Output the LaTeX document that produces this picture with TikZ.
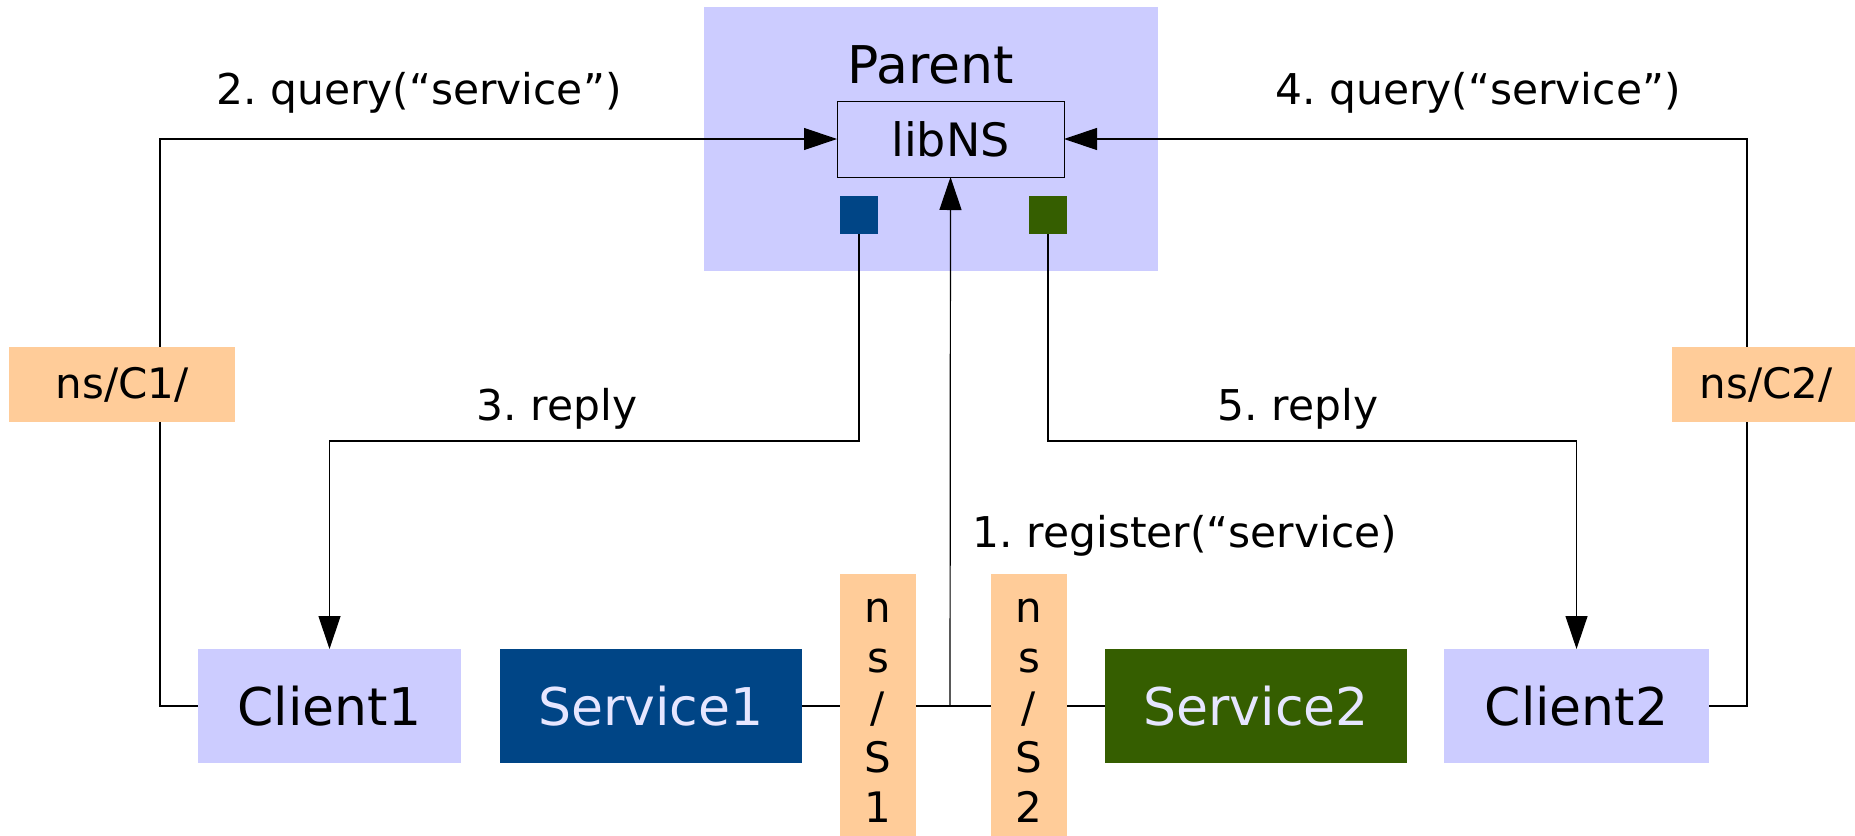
\documentclass[tikz,border=0pt]{standalone}
\usepackage{fontspec}
\setmainfont{DejaVu Sans}
\usetikzlibrary{arrows.meta}
\pgfdeclarelayer{bottom}
\pgfdeclarelayer{background}
\pgfsetlayers{bottom,background,main}
\definecolor{lav}{HTML}{CCCCFF}
\definecolor{org}{HTML}{FFCC99}
\definecolor{sblue}{HTML}{004586}
\definecolor{sgreen}{HTML}{355E00}
\definecolor{stext}{HTML}{E6E6FF}
\frenchspacing
\tikzset{
  px/.style={x={(0.5pt,0)},y={(0,-0.5pt)}},
  box/.style={inner sep=0pt, outer sep=0pt, minimum height=57pt},
  client/.style={box, fill=lav, font=\fontsize{26pt}{30pt}\selectfont},
  service/.style={box, text=stext, font=\fontsize{26pt}{30pt}\selectfont},
  tag/.style={inner sep=0pt, outer sep=0pt, fill=org, font=\fontsize{21pt}{25pt}\selectfont},
  lbl/.style={inner sep=0pt, anchor=base, font=\fontsize{21.2pt}{25pt}\selectfont},
  conn/.style={line width=0.6pt},
  arr/.style={conn, -{Triangle[length=16.5pt,width=11pt]}},
}
\begin{document}
\begin{tikzpicture}[px]
\useasboundingbox (0,0) rectangle (1855,835);
\begin{pgfonlayer}{bottom}
\node[inner sep=0pt, outer sep=0pt, fill=lav, minimum width=227pt, minimum height=132pt] (parent) at (931,139) {};
\end{pgfonlayer}
\node[lbl, font=\fontsize{26pt}{30pt}\selectfont] (ptitle) at (931,83) {Parent};
\node[inner sep=0pt, outer sep=0pt, draw, line width=0.5pt, fill=lav, minimum width=113.5pt, minimum height=38pt, font=\fontsize{23pt}{27pt}\selectfont] (libns) at (950.5,139) {libNS};
\node[inner sep=0pt, outer sep=0pt, fill=sblue, minimum size=19pt] (bsq) at (859,215) {};
\node[inner sep=0pt, outer sep=0pt, fill=sgreen, minimum size=19pt] (gsq) at (1048,215) {};

\node[tag, minimum width=113pt, minimum height=37.5pt] (nsc1) at (122,384.5) {ns/C1/};
\node[tag, minimum width=94pt, minimum height=37.5pt] (nsc2) at (1766,384.5) {ns/C2/};

\node[client, minimum width=131.5pt] (client1) at (329.5,706) {Client1};
\node[service, fill=sblue, minimum width=151pt] (service1) at (651,706) {Service1};
\node[tag, minimum width=38pt, minimum height=137pt, align=center] (nss1) at (878,711) {n\\s\\/\\S\\1};
\node[tag, minimum width=38pt, minimum height=137pt, align=center] (nss2) at (1029,711) {n\\s\\/\\S\\2};
\node[service, fill=sgreen, minimum width=151pt] (service2) at (1256,706) {Service2};
\node[client, minimum width=132.5pt] (client2) at (1576.5,706) {Client2};

\node[lbl] (q2) at (419,104) {2. query(“service”)};
\node[lbl] (q4) at (1478,104) {4. query(“service”)};
\node[lbl] (rp3) at (557,420) {3. reply};
\node[lbl] (rp5) at (1298,420) {5. reply};
\node[lbl] (reg) at (1185,547) {1. register(“service)};

\coordinate (lc) at (160,139);
\coordinate (rc) at (1747,139);
\coordinate (r1) at (859,441);
\coordinate (r2) at (1048,441);
\coordinate (jn) at (950,706);
\begin{pgfonlayer}{background}
\draw[arr] (client1.west) -| (lc) -- (libns.west);
\draw[arr] (client2.east) -| (rc) -- (libns.east);
\draw[arr] (bsq.south) -- (r1) -| (client1.north);
\draw[arr] (gsq.south) -- (r2) -| (client2.north);
\draw[conn] (service1.east) -- (service2.west);
\draw[arr] (jn) -- (libns.south);
\end{pgfonlayer}
\end{tikzpicture}
\end{document}
